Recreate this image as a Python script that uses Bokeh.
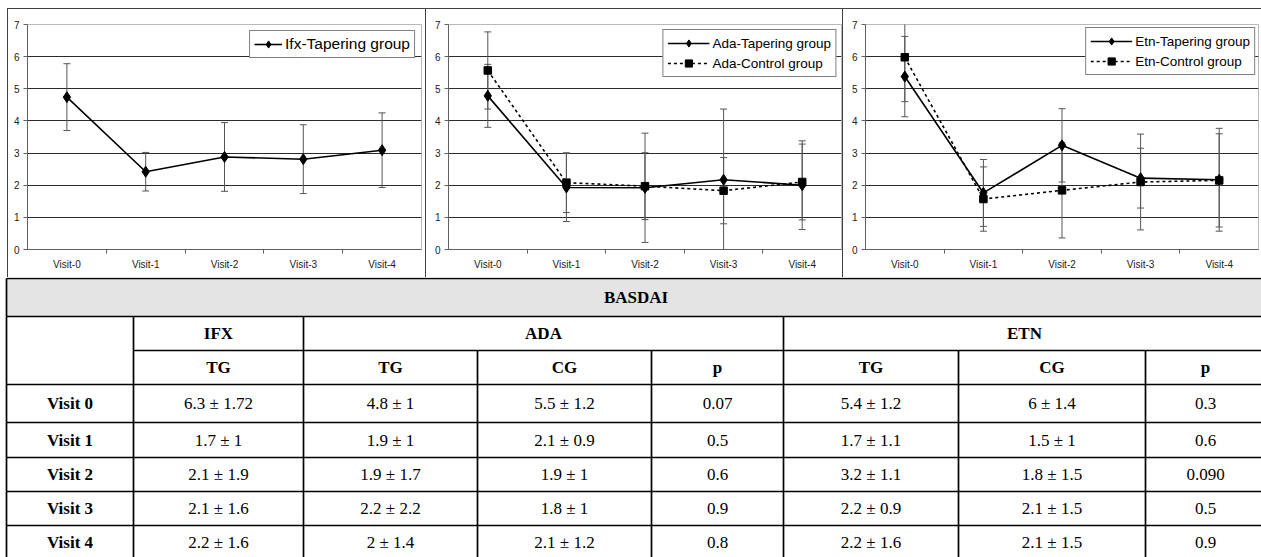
from bokeh.plotting import figure
from bokeh.models import (ColumnDataSource, Whisker, TeeHead, FixedTicker, Range1d, Spacer)
from bokeh.layouts import column, row
from bokeh.embed import file_html
from bokeh.resources import INLINE
from bokeh.core.properties import value

# ---------------- data ----------------
visits = ["Visit-0", "Visit-1", "Visit-2", "Visit-3", "Visit-4"]
y_ticks = [0, 1, 2, 3, 4, 5, 6, 7]

ifx_tg_mean = [4.74, 2.42, 2.88, 2.81, 3.09]
ifx_tg_err = [1.04, 0.60, 1.07, 1.07, 1.16]

ada_tg_mean = [4.78, 1.93, 1.92, 2.17, 2.00]
ada_tg_err = [0.98, 1.06, 1.70, 2.20, 1.38]
ada_cg_mean = [5.57, 2.08, 1.97, 1.83, 2.10]
ada_cg_err = [1.20, 0.93, 1.04, 1.03, 1.18]

etn_tg_mean = [5.38, 1.76, 3.24, 2.22, 2.17]
etn_tg_err = [1.25, 1.04, 1.14, 0.93, 1.60]
etn_cg_mean = [5.98, 1.57, 1.84, 2.10, 2.15]
etn_cg_err = [1.38, 1.00, 1.48, 1.49, 1.45]

table_title = "BASDAI"
table_groups = ["IFX", "ADA", "ETN"]
table_subheads = ["TG", "TG", "CG", "p", "TG", "CG", "p"]
row_labels = ["Visit 0", "Visit 1", "Visit 2", "Visit 3", "Visit 4"]
ifx_tg = ["6.3 ± 1.72", "1.7 ± 1", "2.1 ± 1.9", "2.1 ± 1.6", "2.2 ± 1.6"]
ada_tg = ["4.8 ± 1", "1.9 ± 1", "1.9 ± 1.7", "2.2 ± 2.2", "2 ± 1.4"]
ada_cg = ["5.5 ± 1.2", "2.1 ± 0.9", "1.9 ± 1", "1.8 ± 1", "2.1 ± 1.2"]
ada_p = ["0.07", "0.5", "0.6", "0.9", "0.8"]
etn_tg = ["5.4 ± 1.2", "1.7 ± 1.1", "3.2 ± 1.1", "2.2 ± 0.9", "2.2 ± 1.6"]
etn_cg = ["6 ± 1.4", "1.5 ± 1", "1.8 ± 1.5", "2.1 ± 1.5", "2.1 ± 1.5"]
etn_p = ["0.3", "0.6", "0.090", "0.5", "0.9"]

# ---------------- charts ----------------
SANS = "Liberation Sans"
SERIF = "Liberation Serif"
BORDER = "#404040"
CH_H = 268


def make_chart(width, left, right, series, lmargin, lfont, gw):
    p = figure(width=width, height=CH_H, x_range=Range1d(-0.5, 4.5), y_range=Range1d(0, 7),
               output_backend="svg", toolbar_location=None,
               min_border_left=left, min_border_right=right,
               min_border_top=15, min_border_bottom=28)
    p.background_fill_color = "white"
    p.border_fill_color = "white"
    p.outline_line_color = "#b8b8b8"
    p.xgrid.visible = False
    p.ygrid.ticker = FixedTicker(ticks=y_ticks[1:-1])
    p.ygrid.grid_line_color = "#2a2a2a"
    p.ygrid.grid_line_width = 1

    xa = p.xaxis[0]
    xa.ticker = FixedTicker(ticks=list(range(len(visits))),
                            minor_ticks=[i + 0.5 for i in range(len(visits) - 1)])
    xa.major_label_overrides = {i: v for i, v in enumerate(visits)}
    xa.major_tick_out = 0
    xa.major_tick_in = 0
    xa.minor_tick_out = 4
    xa.minor_tick_in = 0
    xa.minor_tick_line_color = "#606060"
    xa.axis_line_color = "#606060"
    xa.major_label_text_font = SANS
    xa.major_label_text_font_size = "10px"
    xa.major_label_text_color = "#202020"
    xa.major_label_standoff = 5

    ya = p.yaxis[0]
    ya.ticker = FixedTicker(ticks=y_ticks)
    ya.major_tick_out = 4
    ya.major_tick_in = 0
    ya.minor_tick_line_color = None
    ya.major_tick_line_color = "#606060"
    ya.axis_line_color = "#606060"
    ya.major_label_text_font = SANS
    ya.major_label_text_font_size = "10px"
    ya.major_label_text_color = "#202020"
    ya.major_label_standoff = 4

    for name, mean, err, dashed in series:
        xs = list(range(len(visits)))
        src = ColumnDataSource(dict(
            x=xs, y=mean,
            lo=[max(m - e, 0) for m, e in zip(mean, err)],
            hi=[m + e for m, e in zip(mean, err)]))
        w = Whisker(base="x", lower="lo", upper="hi", source=src,
                    line_color="#555555", line_width=1,
                    upper_head=TeeHead(size=7, line_color="#555555", line_width=1),
                    lower_head=TeeHead(size=7, line_color="#555555", line_width=1))
        p.add_layout(w)
        p.line("x", "y", source=src, line_color="black", line_width=1.6,
               line_dash="3 3" if dashed else "solid", legend_label=name)
        if dashed:
            p.scatter("x", "y", source=src, marker="square", size=7.5,
                      color="black", legend_label=name)
        else:
            p.scatter("x", "y", source=src, marker="diamond", size=11,
                      color="black", legend_label=name)

    lg = p.legend[0]
    lg.location = "top_right"
    lg.margin = lmargin
    lg.border_line_color = "black"
    lg.border_line_width = 1
    lg.background_fill_color = "white"
    lg.background_fill_alpha = 1
    lg.label_text_font = SANS
    lg.label_text_font_size = lfont
    lg.label_text_color = "black"
    lg.glyph_width = gw
    lg.glyph_height = 18
    lg.label_height = 18
    lg.label_standoff = 3
    lg.padding = 4
    lg.spacing = 2
    return p


f1 = make_chart(417, 19, 4, [("Ifx-Tapering group", ifx_tg_mean, ifx_tg_err, False)],
                6, "15.5px", 28)
f2 = make_chart(416, 22, 1, [("Ada-Tapering group", ada_tg_mean, ada_tg_err, False),
                             ("Ada-Control group", ada_cg_mean, ada_cg_err, True)],
                5, "13.5px", 42)
f3 = make_chart(418, 22, 3, [("Etn-Tapering group", etn_tg_mean, etn_tg_err, False),
                             ("Etn-Control group", etn_cg_mean, etn_cg_err, True)],
                3, "13.5px", 42)


def vline():
    return Spacer(width=1, height=CH_H, margin=0, styles={"background-color": BORDER})


top_pad = Spacer(width=1261, height=8, margin=0)
top_line = row(Spacer(width=7, height=1, margin=0),
               Spacer(width=1254, height=1, margin=0, styles={"background-color": BORDER}))
charts = row(Spacer(width=7, height=CH_H, margin=0), vline(), f1, vline(), f2, vline(), f3)

# ---------------- table ----------------
col_edges = [6, 133, 303, 477, 651, 783, 958, 1145, 1265]
row_edges = [278, 316, 350, 384, 422, 457, 491, 525, 559]
group_spans = [(1, 2), (2, 5), (5, 8)]

t = figure(width=1261, height=280, x_range=Range1d(0, 1261), y_range=Range1d(557, 277),
           output_backend="svg", toolbar_location=None, min_border=0,
           x_axis_type=None, y_axis_type=None)
t.grid.visible = False
t.outline_line_color = None
t.background_fill_color = "white"
t.border_fill_color = "white"

t.quad(left=[col_edges[0]], right=[col_edges[-1]], top=[row_edges[0]], bottom=[row_edges[1]],
       fill_color="#e4e4e4", line_color=None)

hx0, hy0, hx1, hy1 = [], [], [], []
for i, y in enumerate(row_edges):
    start = col_edges[1] if i == 2 else col_edges[0]
    hx0.append(start); hx1.append(col_edges[-1]); hy0.append(y); hy1.append(y)
for j, x in enumerate(col_edges[:-1]):
    if j == 0:
        ys = row_edges[0]
    elif j in (1, 2, 5):
        ys = row_edges[1]
    else:
        ys = row_edges[2]
    hx0.append(x); hx1.append(x); hy0.append(ys); hy1.append(row_edges[-1])
t.segment(x0=hx0, y0=hy0, x1=hx1, y1=hy1, line_color="black", line_width=1.7)

FS = "17px"


def mid(a, b):
    return (a + b) / 2


bx, by, bt = [], [], []
bx.append(mid(col_edges[0], col_edges[-1])); by.append(mid(row_edges[0], row_edges[1])); bt.append(table_title)
for g, (a, b) in zip(table_groups, group_spans):
    bx.append(mid(col_edges[a], col_edges[b])); by.append(mid(row_edges[1], row_edges[2])); bt.append(g)
for k, s in enumerate(table_subheads):
    bx.append(mid(col_edges[k + 1], col_edges[k + 2])); by.append(mid(row_edges[2], row_edges[3])); bt.append(s)
for r, lab in enumerate(row_labels):
    bx.append(mid(col_edges[0], col_edges[1])); by.append(mid(row_edges[r + 3], row_edges[r + 4])); bt.append(lab)
t.text(x=bx, y=by, text=bt, text_align="center", text_baseline="middle",
       text_font=value(SERIF), text_font_style="bold", text_font_size=FS, text_color="black")

table_cols = [ifx_tg, ada_tg, ada_cg, ada_p, etn_tg, etn_cg, etn_p]
nx, ny, nt = [], [], []
for k, colvals in enumerate(table_cols):
    for r, v in enumerate(colvals):
        nx.append(mid(col_edges[k + 1], col_edges[k + 2]))
        ny.append(mid(row_edges[r + 3], row_edges[r + 4]))
        nt.append(v)
t.text(x=nx, y=ny, text=nt, text_align="center", text_baseline="middle",
       text_font=value(SERIF), text_font_size=FS, text_color="black")

layout = column(top_pad, top_line, charts, t, spacing=0)
open("out.html", "w").write(file_html(layout, INLINE))
